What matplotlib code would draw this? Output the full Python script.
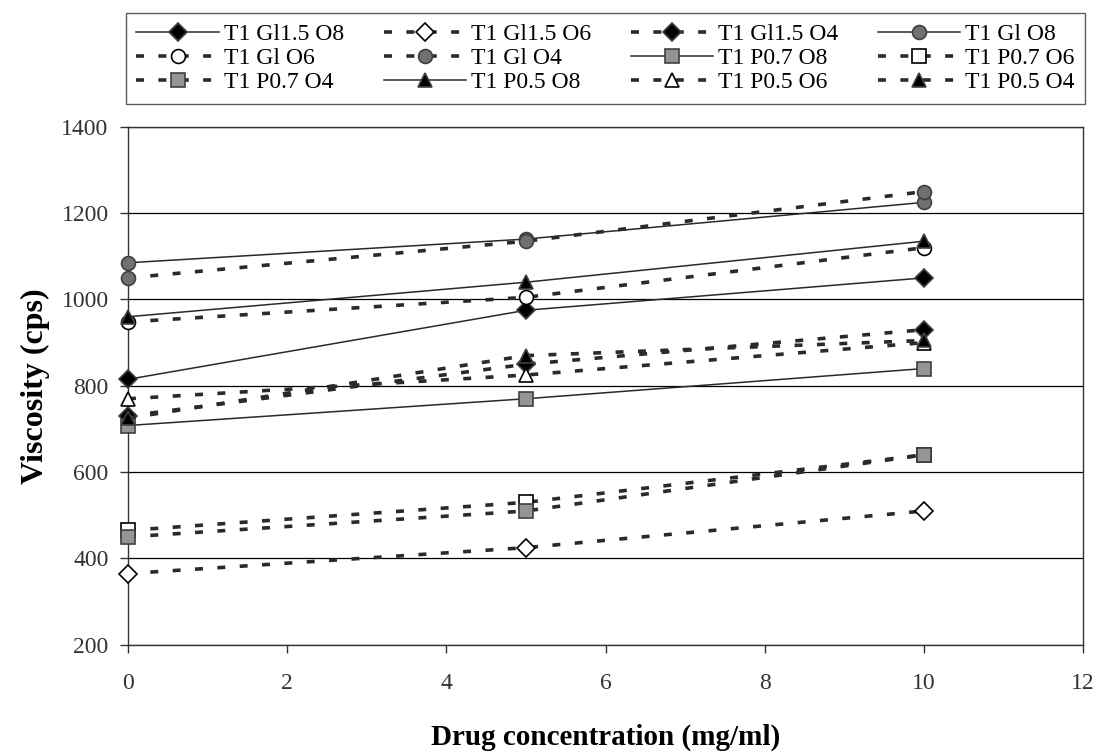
import numpy as np
import matplotlib.pyplot as plt

plt.rcParams['font.family'] = ['Liberation Serif', 'DejaVu Serif']

# drug concentration (mg/ml)
conc = [0, 5, 10]

# viscosity (cps)
gl15_o8 = [815, 975, 1050]
gl15_o6 = [365, 425, 510]
gl15_o4 = [730, 850, 930]
gl1_o8 = [1085, 1140, 1225]
gl1_o6 = [948, 1005, 1120]
gl1_o4 = [1050, 1135, 1250]
p07_o8 = [708, 770, 840]
p07_o6 = [465, 530, 640]
p07_o4 = [450, 510, 640]
p05_o8 = [960, 1040, 1135]
p05_o6 = [770, 825, 900]
p05_o4 = [725, 870, 905]

labels = ["T1 Gl1.5 O8", "T1 Gl1.5 O6", "T1 Gl1.5 O4", "T1 Gl O8",
          "T1 Gl O6", "T1 Gl O4", "T1 P0.7 O8", "T1 P0.7 O6",
          "T1 P0.7 O4", "T1 P0.5 O8", "T1 P0.5 O6", "T1 P0.5 O4"]
series = [gl15_o8, gl15_o6, gl15_o4, gl1_o8, gl1_o6, gl1_o4,
          p07_o8, p07_o6, p07_o4, p05_o8, p05_o6, p05_o4]

# (marker, face colour, solid?)
styles = [("D", "black", True), ("D", "white", False), ("D", "black", False),
          ("o", "#707070", True), ("o", "white", False), ("o", "#707070", False),
          ("s", "#959595", True), ("s", "white", False), ("s", "#959595", False),
          ("^", "black", True), ("^", "white", False), ("^", "black", False)]

fig = plt.figure(figsize=(10.94, 7.55), dpi=100)
ax = fig.add_axes([0.117, 0.146, 0.873, 0.686])

handles = []
for vals, lab, (mk, fc, solid) in zip(series, labels, styles):
    if solid:
        ls, lw = "-", 1.1
    else:
        ls, lw = (0, (2.2, 4.0)), 2.6
    msize = 10 if mk != "D" else 9
    h, = ax.plot(conc, vals, linestyle=ls, color="#2a2a2a", lw=lw,
                 marker=mk, markersize=msize, markerfacecolor=fc,
                 markeredgecolor="#404040" if fc != "white" else "black",
                 markeredgewidth=1.2, label=lab, clip_on=False, zorder=3)
    handles.append(h)

ax.set_xlim(0, 12)
ax.set_ylim(200, 1400)
ax.set_xticks(np.arange(0, 13, 2))
ax.set_yticks(np.arange(200, 1401, 200))
ax.yaxis.grid(True, color="black", lw=0.9)
ax.set_axisbelow(True)
for s in ax.spines.values():
    s.set_color("#333333")
    s.set_linewidth(1.0)
ax.tick_params(axis="both", labelsize=17, colors="#333333", length=6,
               width=1.0, pad=8)
ax.tick_params(axis="x", pad=14)

ax.set_xlabel("Drug concentration (mg/ml)", fontsize=21, fontweight="bold",
              labelpad=22)
ax.set_ylabel("Viscosity (cps)", fontsize=23, fontweight="bold", labelpad=8)

# legend is read across the rows, matplotlib fills columns first
nrow, ncol = 3, 4
order = [r * ncol + c for c in range(ncol) for r in range(nrow)]
leg = fig.legend(handles=[handles[i] for i in order],
                 labels=[labels[i] for i in order], ncol=ncol,
                 loc="upper left", bbox_to_anchor=(0.115, 0.8636, 0.877, 0.119),
                 mode="expand", fontsize=17, frameon=True, fancybox=False,
                 edgecolor="#333333", handlelength=3.5, handletextpad=0.2,
                 labelspacing=0.1, borderpad=0.45, columnspacing=0.8,
                 borderaxespad=0)
leg.get_frame().set_linewidth(1.0)

fig.savefig("out.png", dpi=100)
